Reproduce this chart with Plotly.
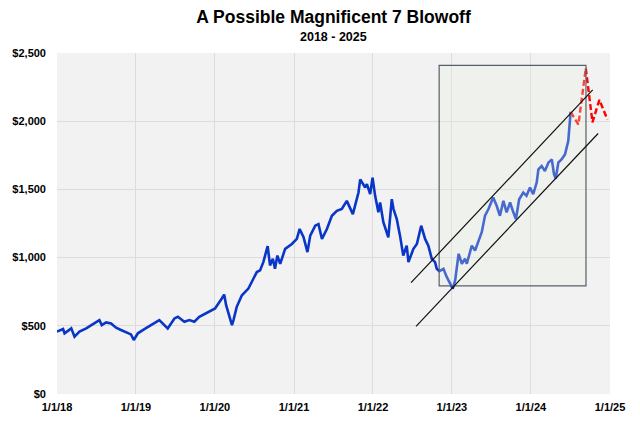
import plotly.graph_objects as go

# ---- data ----
price_dates = [
    "2018-01-01", "2018-01-29", "2018-02-05", "2018-03-08", "2018-03-23", "2018-04-15",
    "2018-05-16", "2018-06-16", "2018-07-16", "2018-07-27", "2018-08-16", "2018-09-08",
    "2018-10-01", "2018-10-24", "2018-11-16", "2018-12-09", "2018-12-22",
    "2019-01-10", "2019-02-09", "2019-03-12", "2019-04-19", "2019-05-28", "2019-06-28",
    "2019-07-14", "2019-08-13", "2019-09-05", "2019-09-28", "2019-10-21", "2019-12-03",
    "2020-01-02", "2020-02-02", "2020-02-13", "2020-02-22", "2020-03-20", "2020-03-27",
    "2020-04-11", "2020-05-05", "2020-06-04", "2020-06-27", "2020-07-13", "2020-07-28",
    "2020-08-12", "2020-09-01", "2020-09-12", "2020-09-25", "2020-10-05", "2020-10-16",
    "2020-10-29", "2020-11-21", "2020-12-22",
    "2021-01-14", "2021-01-27", "2021-02-14", "2021-03-04", "2021-03-17", "2021-04-09",
    "2021-04-24", "2021-05-10", "2021-06-02", "2021-06-25", "2021-07-18", "2021-08-10",
    "2021-09-02", "2021-09-30", "2021-10-26", "2021-11-03", "2021-11-26", "2021-12-04",
    "2021-12-19", "2021-12-30",
    "2022-01-11", "2022-01-26", "2022-02-03", "2022-02-18", "2022-03-13", "2022-03-29",
    "2022-04-06", "2022-04-21", "2022-05-06", "2022-05-21", "2022-06-06", "2022-06-14",
    "2022-07-07", "2022-07-23", "2022-08-12", "2022-08-30", "2022-09-14", "2022-09-30",
    "2022-10-15", "2022-10-23", "2022-11-04", "2022-11-23", "2022-12-08", "2022-12-23",
    "2023-01-05", "2023-01-16", "2023-02-01", "2023-02-16", "2023-03-03", "2023-03-11",
    "2023-04-03", "2023-04-18", "2023-05-03", "2023-05-19", "2023-06-03", "2023-06-19",
    "2023-07-11", "2023-07-27", "2023-08-11", "2023-08-27", "2023-09-11", "2023-09-27",
    "2023-10-12", "2023-10-24", "2023-11-08", "2023-11-27", "2023-12-12", "2023-12-28",
    "2024-01-12", "2024-01-28", "2024-02-05", "2024-02-20", "2024-03-06", "2024-03-22",
    "2024-04-07", "2024-04-17", "2024-04-25", "2024-05-07", "2024-05-22", "2024-06-07",
    "2024-06-22", "2024-06-27", "2024-07-03",
]
price_values = [
    457, 476, 445, 481, 420, 457,
    481, 510, 542, 505, 525, 517,
    486, 469, 452, 437, 396,
    445, 476, 505, 542, 481, 554,
    566, 530, 542, 530, 565, 603,
    627, 700, 729, 651, 505, 542,
    639, 724, 773, 845, 894, 906,
    967, 1084, 943, 991, 918, 1015,
    955, 1064, 1100,
    1137, 1210, 1149, 1040, 1161, 1234,
    1246, 1137, 1210, 1307, 1343, 1356,
    1416, 1319, 1477, 1574, 1514, 1538,
    1465, 1586,
    1453, 1332, 1404, 1259, 1149, 1428,
    1356, 1283, 1161, 1015, 1088, 967,
    1064, 1100, 1234, 1137, 1088, 991,
    967, 918, 900, 918, 858, 809,
    773, 833, 1028, 955, 991, 955,
    1088, 1052, 1113, 1186, 1307, 1356,
    1441, 1380, 1307, 1416, 1332, 1404,
    1332, 1283, 1428, 1477, 1453, 1514,
    1465, 1550, 1647, 1671, 1635, 1696,
    1720, 1611, 1579, 1696, 1720, 1757,
    1854, 1939, 2068,
]

projection_dates = ["2024-07-03", "2024-08-08", "2024-09-11", "2024-10-12", "2024-11-13", "2024-12-20"]
projection_values = [2068, 1975, 2389, 1992, 2157, 2012]

box_dates = ["2022-11-03", "2024-09-12"]
box_values = [792, 2410]

upper_channel_dates = ["2022-06-26", "2024-10-13"]
upper_channel_values = [816, 2230]
lower_channel_dates = ["2022-07-19", "2024-11-07"]
lower_channel_values = [496, 1910]

tick_dates = ["2018-01-01", "2019-01-01", "2020-01-01", "2021-01-01",
              "2022-01-01", "2023-01-01", "2024-01-01", "2025-01-01"]
tick_labels = ["1/1/18", "1/1/19", "1/1/20", "1/1/21", "1/1/22", "1/1/23", "1/1/24", "1/1/25"]

FONT = "Liberation Sans, Arial, sans-serif"

fig = go.Figure()
fig.add_trace(go.Scatter(
    x=price_dates, y=price_values, mode="lines",
    line=dict(color="#0a36c8", width=2.6), hoverinfo="x+y", showlegend=False,
))
fig.add_trace(go.Scatter(
    x=projection_dates, y=projection_values, mode="lines",
    line=dict(color="#ff0000", width=2.4, dash="6px,3px"), showlegend=False,
))

shapes = [
    dict(type="rect", xref="x", yref="y", layer="above",
         x0=box_dates[0], x1=box_dates[1], y0=box_values[0], y1=box_values[1],
         fillcolor="rgba(232,240,226,0.28)", line=dict(color="#56606b", width=1.2)),
    dict(type="line", xref="x", yref="y", layer="above",
         x0=upper_channel_dates[0], x1=upper_channel_dates[1],
         y0=upper_channel_values[0], y1=upper_channel_values[1],
         line=dict(color="#111111", width=1.2)),
    dict(type="line", xref="x", yref="y", layer="above",
         x0=lower_channel_dates[0], x1=lower_channel_dates[1],
         y0=lower_channel_values[0], y1=lower_channel_values[1],
         line=dict(color="#111111", width=1.2)),
]

fig.update_layout(
    width=640, height=425,
    margin=dict(l=57, r=30, t=53, b=29),
    paper_bgcolor="white",
    plot_bgcolor="#f2f2f2",
    font=dict(family=FONT, color="black"),
    title=dict(
        text="<b>A Possible Magnificent 7 Blowoff</b>",
        x=0.5, xref="paper", xanchor="center",
        y=1 - 17 / 425, yref="container", yanchor="middle",
        font=dict(size=17.5, family=FONT, color="black"),
    ),
    annotations=[dict(
        text="<b>2018 - 2025</b>", xref="paper", yref="paper",
        x=0.5, y=1 + 16 / 343, xanchor="center", yanchor="middle",
        showarrow=False, font=dict(size=12.5, family=FONT, color="black"),
    )],
    shapes=shapes,
    xaxis=dict(
        type="date", range=["2018-01-01", "2025-01-01"],
        tickvals=tick_dates, ticktext=tick_labels,
        showgrid=True, gridcolor="#dcdcdc", gridwidth=1,
        zeroline=False, showline=False, ticks="",
        ticklabelstandoff=5,
        tickfont=dict(size=11, family=FONT, color="black", weight="bold"),
    ),
    yaxis=dict(
        range=[0, 2500], dtick=500, tickprefix="$", tickformat=",",
        showgrid=True, gridcolor="#dcdcdc", gridwidth=1,
        zeroline=False, showline=False, ticks="",
        ticklabelstandoff=10,
        tickfont=dict(size=11, family=FONT, color="black", weight="bold"),
    ),
    showlegend=False,
)

fig.write_html("out.html", config={"displayModeBar": False},
               post_script="document.body.style.margin='0';")
